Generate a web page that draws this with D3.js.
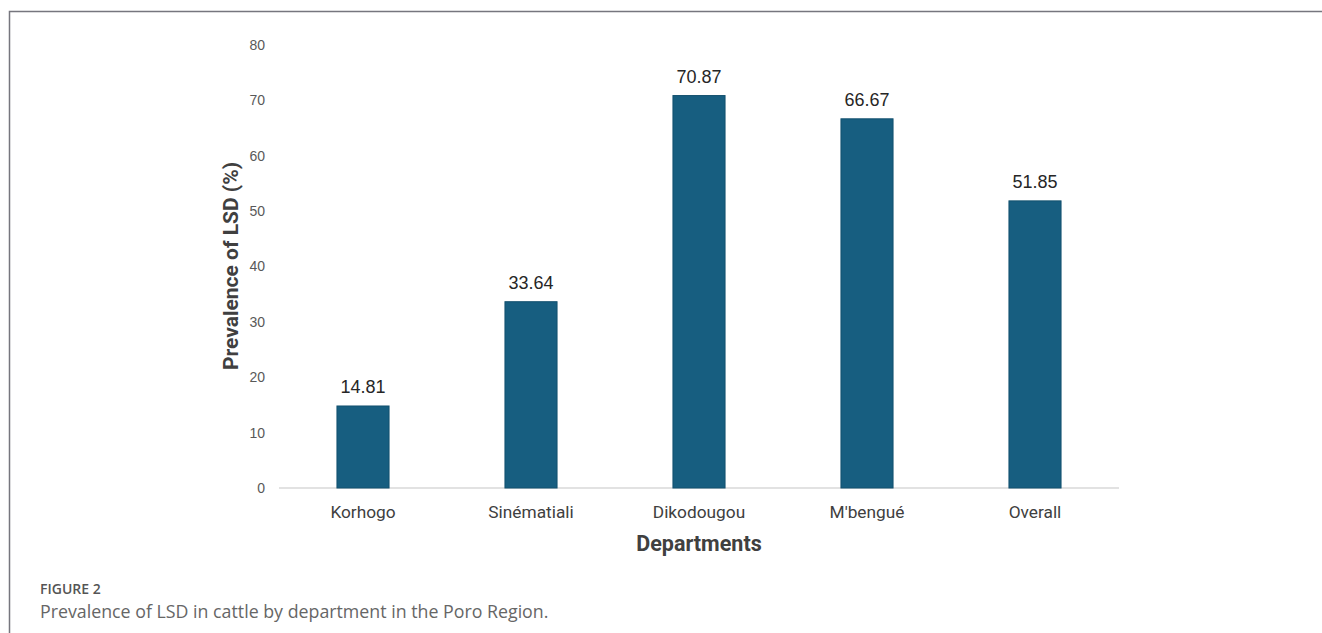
<!DOCTYPE html>
<html>
<head>
<meta charset="utf-8">
<script src="https://cdn.jsdelivr.net/npm/d3@7"></script>
<style>
  body { margin: 0; background: #fff; }
  #chart { width: 1322px; height: 633px; }
</style>
</head>
<body>
<div id="chart"></div>
<script>
// data
const departments = ['Korhogo', 'Sinématiali', 'Dikodougou', "M'bengué", 'Overall'];
const prevalence = [14.81, 33.64, 70.87, 66.67, 51.85];
const yTicks = [0, 10, 20, 30, 40, 50, 60, 70, 80];

drawChart();

function drawChart() {
    const width = 1322;
    const height = 633;

    const svg = d3.select('#chart')
        .append('svg')
        .attr('width', width)
        .attr('height', height);

    // figure frame: top + left rule
    svg.append('path')
        .attr('d', 'M9.5,' + height + ' L9.5,11.5 L' + width + ',11.5')
        .attr('fill', 'none')
        .attr('stroke', '#76767e')
        .attr('stroke-width', 1.5);

    const x = d3.scaleBand()
        .domain(departments)
        .range([279, 1119])
        .paddingInner(0.69)
        .paddingOuter(0.345);

    const y = d3.scaleLinear()
        .domain([0, 80])
        .range([488, 45]);

    // baseline
    svg.append('line')
        .attr('x1', 279).attr('x2', 1119)
        .attr('y1', y(0)).attr('y2', y(0))
        .attr('stroke', '#d9d9d9')
        .attr('stroke-width', 1.5);

    // y tick labels
    const yAxis = d3.axisLeft(y).tickValues(yTicks).tickSize(0).tickPadding(0);
    const gy = svg.append('g')
        .attr('transform', 'translate(265,0)')
        .call(yAxis);
    gy.select('.domain').remove();
    gy.selectAll('text')
        .attr('font-family', 'Liberation Sans, Arial, sans-serif')
        .attr('font-size', 14)
        .attr('fill', '#595959');

    // x tick labels
    const xAxis = d3.axisBottom(x).tickSize(0).tickPadding(0);
    const gx = svg.append('g')
        .attr('transform', 'translate(0,506)')
        .call(xAxis);
    gx.select('.domain').remove();
    gx.selectAll('text')
        .attr('font-family', 'Roboto, sans-serif')
        .attr('font-size', 17.3)
        .attr('fill', '#404040');

    // bars
    svg.selectAll('rect.bar')
        .data(departments)
        .join('rect')
        .attr('class', 'bar')
        .attr('x', function(d) { return x(d); })
        .attr('width', x.bandwidth())
        .attr('y', function(d, i) { return y(prevalence[i]); })
        .attr('height', function(d, i) { return y(0) - y(prevalence[i]); })
        .attr('fill', '#175e80')
        .attr('stroke', '#12506e')
        .attr('stroke-width', 1);

    // value labels
    svg.selectAll('text.val')
        .data(departments)
        .join('text')
        .attr('class', 'val')
        .attr('x', function(d) { return x(d) + x.bandwidth() / 2; })
        .attr('y', function(d, i) { return y(prevalence[i]) - 13; })
        .attr('text-anchor', 'middle')
        .attr('font-family', 'Liberation Sans, Arial, sans-serif')
        .attr('font-size', 18)
        .attr('fill', '#262626')
        .text(function(d, i) { return prevalence[i].toFixed(2); });

    // axis titles
    svg.append('text')
        .attr('transform', 'translate(238,266) rotate(-90)')
        .attr('text-anchor', 'middle')
        .attr('font-family', 'Roboto, sans-serif')
        .attr('font-weight', 'bold')
        .attr('font-size', 21)
        .attr('fill', '#404040')
        .text('Prevalence of LSD (%)');

    svg.append('text')
        .attr('x', 699)
        .attr('y', 551)
        .attr('text-anchor', 'middle')
        .attr('font-family', 'Roboto, sans-serif')
        .attr('font-weight', 'bold')
        .attr('font-size', 21.5)
        .attr('fill', '#404040')
        .text('Departments');

    // caption
    svg.append('text')
        .attr('x', 40)
        .attr('y', 594)
        .attr('font-family', 'Open Sans, sans-serif')
        .attr('font-size', 14)
        .attr('font-weight', 600)
        .attr('fill', '#555')
        .text('FIGURE 2');

    svg.append('text')
        .attr('x', 40)
        .attr('y', 618)
        .attr('font-family', 'Open Sans, sans-serif')
        .attr('font-size', 17.8)
        .attr('fill', '#666')
        .text('Prevalence of LSD in cattle by department in the Poro Region.');
}
</script>
</body>
</html>
